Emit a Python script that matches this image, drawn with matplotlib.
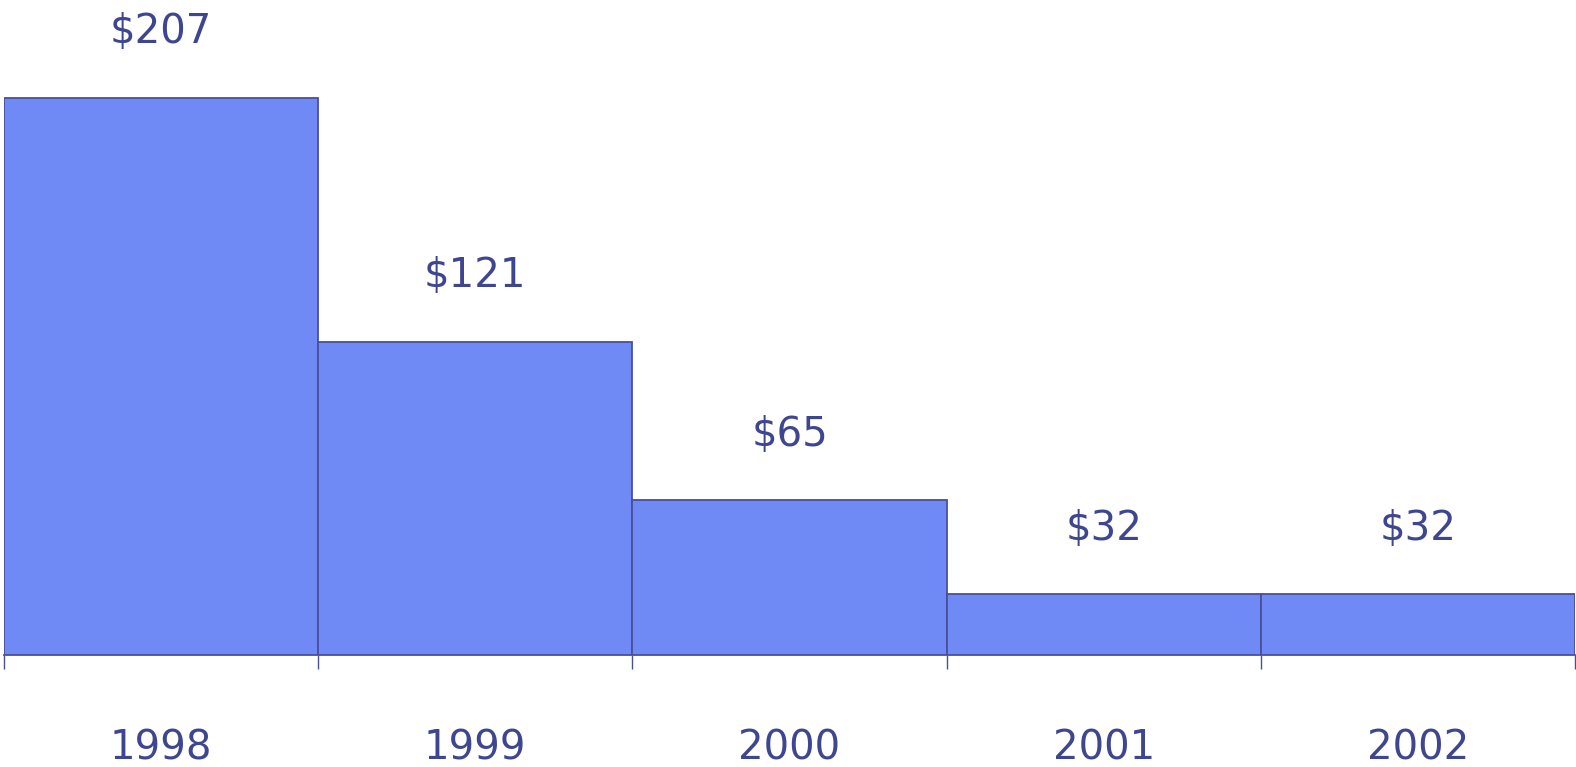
import matplotlib
matplotlib.use('Agg')
import matplotlib.pyplot as plt

years = ['1998', '1999', '2000', '2001', '2002']
values = [207, 121, 65, 32, 32]
labels = ['$207', '$121', '$65', '$32', '$32']

text_color = '#3f4690'
bar_color = '#6f89f5'
edge_color = '#4a4f9c'

plt.rcParams['font.family'] = ['DejaVu Sans']

fig = plt.figure(figsize=(15.76, 7.67), dpi=100)
ax = fig.add_axes([4 / 1576, 112 / 767, 1571 / 1576, 655 / 767])

x = list(range(len(years)))
bars = ax.bar(x, values, width=1, align='edge', color=bar_color,
              edgecolor=edge_color, linewidth=1.3)

# valeur au-dessus de chaque barre
for rect, lab in zip(bars, labels):
    ax.annotate(lab, (rect.get_x() + rect.get_width() / 2, rect.get_height()),
                xytext=(0, 47), textcoords='offset points',
                ha='center', va='center', fontsize=29, color=text_color,
                annotation_clip=False)

ax.set_xlim(0, len(years))
ax.set_ylim(10.5, 241.4)

for s in ['top', 'left', 'right']:
    ax.spines[s].set_visible(False)
ax.spines['bottom'].set_color(edge_color)
ax.spines['bottom'].set_linewidth(1.3)
ax.set_yticks([])

ax.set_xticks(list(range(len(years) + 1)))
ax.set_xticklabels([])
ax.tick_params(axis='x', which='major', length=10, width=1, color=edge_color)
ax.set_xticks([i + 0.5 for i in x], minor=True)
ax.set_xticklabels(years, minor=True)
ax.tick_params(axis='x', which='minor', length=0, pad=53, labelsize=29,
               labelcolor=text_color)

fig.savefig('out.png', dpi=100)
